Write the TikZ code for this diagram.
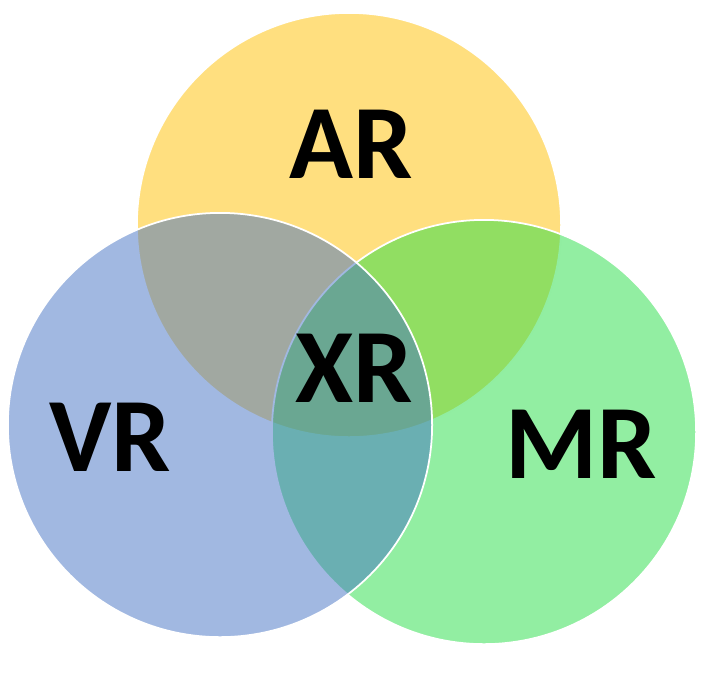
\documentclass[tikz,border=0pt]{standalone}
\usepackage{fontspec}
\setmainfont{Carlito}
\usetikzlibrary{positioning}
\definecolor{arcol}{HTML}{FFC000}
\definecolor{vrcol}{HTML}{4472C4}
\definecolor{mrcol}{HTML}{25DD45}
\begin{document}
\begin{tikzpicture}[x=0.01cm,y=-0.01cm,
  set/.style={circle,draw=white,line width=0.5pt,fill opacity=0.5,minimum size=4.24cm,inner sep=0pt},
  lbl/.style={font=\fontsize{30}{30}\selectfont\bfseries,inner sep=0pt}]
\useasboundingbox (0,0) rectangle (707,675);
% the three sets
\node[set,fill=arcol] (ar) at (349,225) {};
\node[set,fill=mrcol] (mr) at (484,432) {};
\node[set,fill=vrcol] (vr) at (220,425) {};
% names
\node[lbl] (arname) at (351,144) {AR};
\node[lbl] (vrname) at (110,437) {VR};
\node[lbl] (mrname) at (581,444) {MR};
\node[lbl] (xrname) at (354,368) {XR};
\end{tikzpicture}
\end{document}
